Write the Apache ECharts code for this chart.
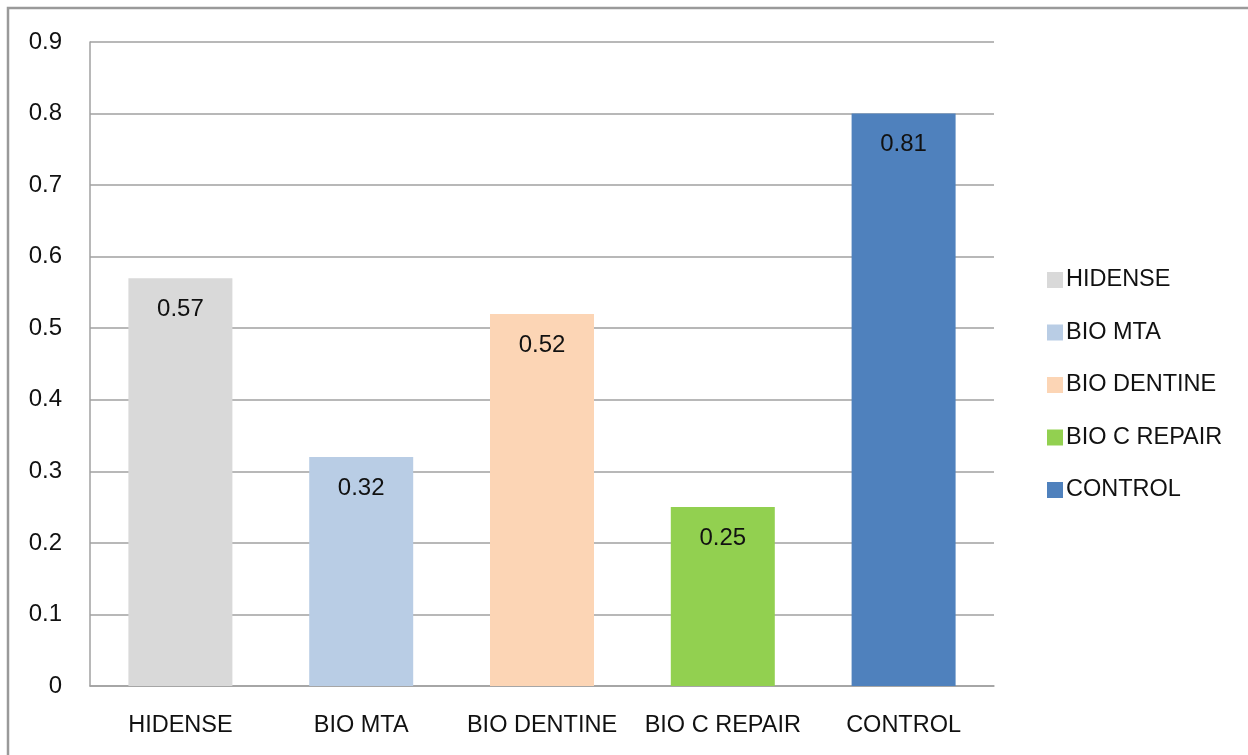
<!DOCTYPE html>
<html>
<head>
<meta charset="utf-8">
<script src="https://cdn.jsdelivr.net/npm/echarts@6/dist/echarts.min.js"></script>
<style>html,body{margin:0;padding:0;background:#fff;}#c{width:1248px;height:755px;}</style>
</head>
<body>
<div id="c"></div>
<script>
var categories = ['HIDENSE', 'BIO MTA', 'BIO DENTINE', 'BIO C REPAIR', 'CONTROL'];
var values = [0.57, 0.32, 0.52, 0.25, 0.80];
var valueLabels = ['0.57', '0.32', '0.52', '0.25', '0.81'];
var yTicks = [0, 0.1, 0.2, 0.3, 0.4, 0.5, 0.6, 0.7, 0.8, 0.9];
var colors = ['#d9d9d9', '#b9cde5', '#fcd5b5', '#92d050', '#4f81bd'];

var FONT = 'Liberation Sans';
var chart = echarts.init(document.getElementById('c'), null, {renderer: 'canvas'});

var series = categories.map(function (name, i) {
  var d = categories.map(function (_, j) { return j === i ? values[i] : '-'; });
  return {
    name: name,
    type: 'bar',
    data: d,
    barWidth: 104,
    barGap: '-100%',
    itemStyle: {color: colors[i]},
    label: {
      show: true,
      position: 'insideTop',
      distance: 19,
      color: '#111',
      fontFamily: FONT,
      fontSize: 24,
      formatter: function () { return valueLabels[i]; }
    }
  };
});

chart.setOption({
  animation: false,
  backgroundColor: '#fff',
  graphic: [{
    type: 'rect',
    shape: {x: 8, y: 8, width: 1300, height: 800},
    style: {fill: 'none', stroke: '#9a9a9a', lineWidth: 2.5},
    z: -1
  }],
  grid: {left: 90, right: 254, top: 42, bottom: 69, containLabel: false},
  legend: {
    orient: 'vertical',
    left: 1042,
    top: 263,
    itemWidth: 16,
    itemHeight: 16,
    itemGap: 28.5,
    icon: 'rect',
    textStyle: {fontFamily: FONT, fontSize: 23.5, lineHeight: 24, color: '#111', padding: [0, 0, 0, -2]},
    data: categories
  },
  xAxis: {
    type: 'category',
    data: categories,
    axisLine: {lineStyle: {color: '#a0a0a0', width: 1.5}},
    axisTick: {show: false},
    axisLabel: {fontFamily: FONT, fontSize: 23.5, color: '#111', margin: 28, interval: 0}
  },
  yAxis: {
    type: 'value',
    min: 0,
    max: 0.9,
    interval: 0.1,
    axisLine: {show: true, lineStyle: {color: '#a0a0a0', width: 1.5}},
    axisTick: {show: false},
    splitLine: {lineStyle: {color: '#a0a0a0', width: 1.5}},
    axisLabel: {
      fontFamily: FONT, fontSize: 24, color: '#111', margin: 28,
      formatter: function (v) {
        var t = yTicks.filter(function (y) { return Math.abs(y - v) < 1e-6; });
        return t.length ? String(t[0]) : '';
      }
    }
  },
  series: series
});
</script>
</body>
</html>
